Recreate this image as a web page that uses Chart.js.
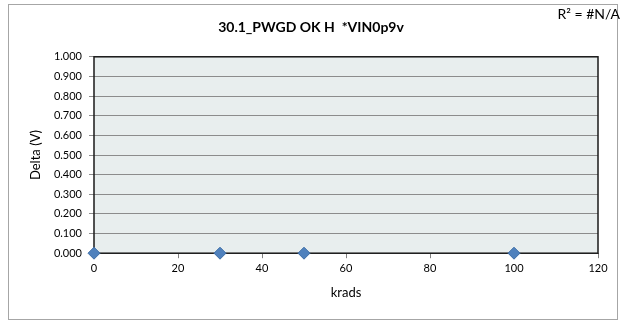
<!DOCTYPE html>
<html>
<head>
<meta charset="utf-8">
<script src="https://cdn.jsdelivr.net/npm/chart.js@4.4.1/dist/chart.umd.min.js"></script>
<style>
  html, body { margin: 0; padding: 0; background: #fff; }
  #wrap { width: 624px; height: 322px; position: relative; }
</style>
</head>
<body>
<div id="wrap"><canvas id="grafico"></canvas></div>
<script>
// dados
const krads = [0, 30, 50, 100];
const delta = [0, 0, 0, 0];
const tituloGrafico = '30.1_PWGD OK H  *VIN0p9v';
const textoR2 = 'R² = #N/A';

const fonte = 'Lato, "Open Sans", sans-serif';
const azul = '#4f81bd';

// fundo e moldura da área do gráfico + borda externa
const molduraPlugin = {
  id: 'moldura',
  beforeDraw(chart) {
    const { ctx, chartArea: a } = chart;
    ctx.save();
    ctx.fillStyle = '#e8eeee';
    ctx.fillRect(a.left, a.top, a.right - a.left, a.bottom - a.top);
    ctx.strokeStyle = '#a6a6a6';
    ctx.lineWidth = 1;
    ctx.strokeRect(8.5, 4.5, 609, 315);
    ctx.restore();
  },
  beforeDatasetsDraw(chart) {
    const { ctx, chartArea: a } = chart;
    ctx.save();
    ctx.strokeStyle = '#1a1a1a';
    ctx.lineWidth = 1.5;
    ctx.strokeRect(a.left, a.top, a.right - a.left, a.bottom - a.top);
    ctx.restore();
  },
  afterDraw(chart) {
    const { ctx } = chart;
    ctx.save();
    ctx.fillStyle = '#000';
    ctx.font = '14px ' + fonte;
    ctx.textAlign = 'right';
    ctx.textBaseline = 'middle';
    ctx.fillText(textoR2, 620, 14);
    ctx.restore();
  }
};

new Chart(document.getElementById('grafico'), {
  type: 'scatter',
  data: {
    datasets: [{
      data: krads.map((k, i) => ({ x: k, y: delta[i] })),
      pointStyle: 'rectRot',
      pointRadius: 6,
      pointHoverRadius: 6,
      backgroundColor: azul,
      borderColor: '#3f6fa8',
      borderWidth: 1,
      clip: false
    }]
  },
  options: {
    responsive: true,
    maintainAspectRatio: false,
    animation: false,
    layout: { padding: { top: 0, left: 24, right: 26, bottom: 17 } },
    plugins: {
      legend: { display: false },
      tooltip: { enabled: false },
      title: {
        display: true,
        text: tituloGrafico,
        color: '#000',
        font: { family: fonte, size: 14, weight: 'bold' },
        padding: { top: 19, bottom: 21 }
      }
    },
    scales: {
      x: {
        type: 'linear',
        min: 0,
        max: 120,
        ticks: { stepSize: 20, color: '#000', font: { family: fonte, size: 11 }, padding: 4 },
        grid: { drawOnChartArea: false, drawTicks: true, tickLength: 5, color: '#808080' },
        border: { display: false },
        title: { display: true, text: 'krads', color: '#000', font: { family: fonte, size: 13 }, padding: { top: 6 } }
      },
      y: {
        min: 0,
        max: 1,
        ticks: {
          stepSize: 0.1,
          color: '#000',
          font: { family: fonte, size: 11 },
          padding: 7,
          callback: v => v.toFixed(3)
        },
        grid: { color: '#8c8c8c', tickLength: 5, lineWidth: 1 },
        border: { display: false },
        title: { display: true, text: 'Delta (V)', color: '#000', font: { family: fonte, size: 13 }, padding: { bottom: 2 } },
        afterFit(scale) { scale.width = 70; }
      }
    }
  },
  plugins: [molduraPlugin]
});
</script>
</body>
</html>
